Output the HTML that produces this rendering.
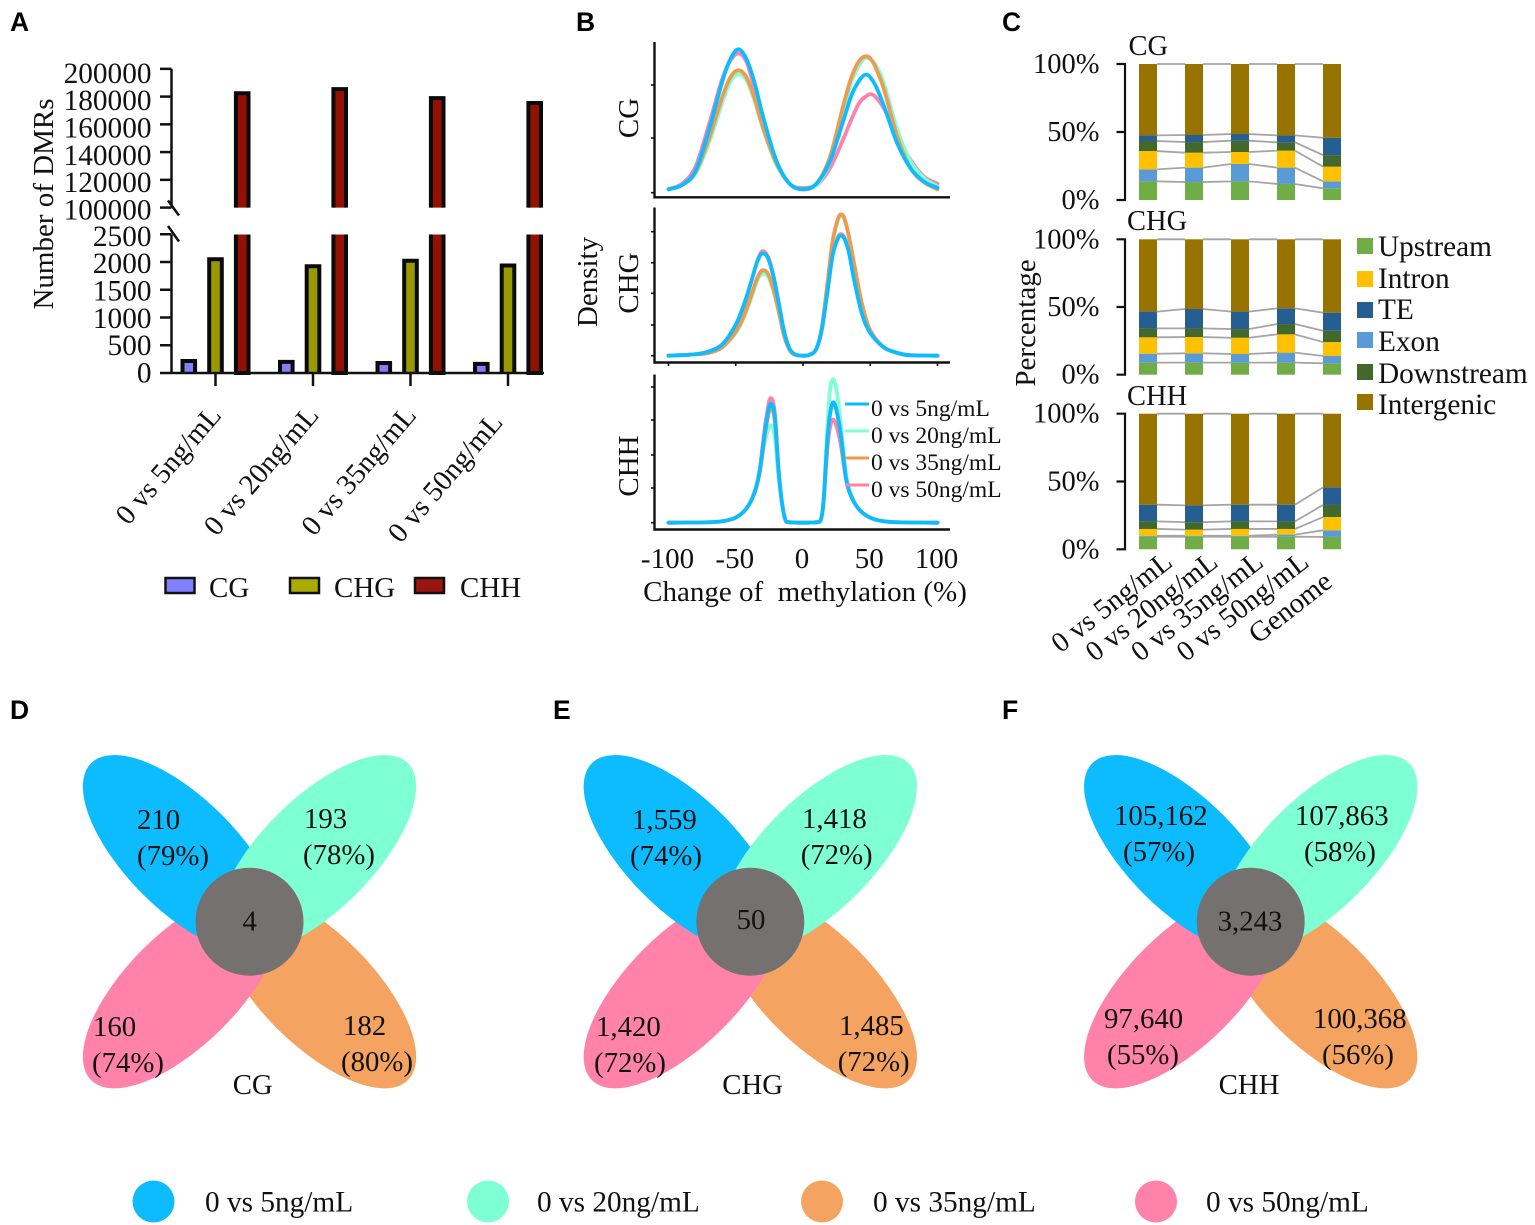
<!DOCTYPE html>
<html lang="en">
<head>
<meta charset="utf-8">
<title>DMR methylation figure</title>
<style>
html,body{margin:0;padding:0;background:#fff;width:1535px;height:1225px;overflow:hidden}
svg{display:block}
text{font-family:"Liberation Serif",serif;fill:#111;font-size:29px}
.panel-letter{font-family:"Liberation Sans",sans-serif;font-weight:700;font-size:26.5px;fill:#000}
.venn text{font-size:28.8px}
</style>
</head>
<body>
<svg id="fig" xmlns="http://www.w3.org/2000/svg" width="1535" height="1225" viewBox="0 0 1535 1225">
  <text class="panel-letter" x="10" y="31">A</text>
  <text class="panel-letter" x="576" y="31">B</text>
  <text class="panel-letter" x="1002" y="31">C</text>
  <text class="panel-letter" x="10" y="719">D</text>
  <text class="panel-letter" x="553" y="719">E</text>
  <text class="panel-letter" x="1002" y="719">F</text>

  <g id="panelA"></g>
  <g id="panelB"></g>
  <g id="panelC"></g>

  <!-- Panel A static furniture -->
  <text transform="translate(53,204) rotate(-90)" text-anchor="middle">Number of DMRs</text>
  <g>
    <rect x="165.5" y="578" width="29" height="15" fill="#8080ff" stroke="#111" stroke-width="2.5"/>
    <text x="209" y="597">CG</text>
    <rect x="290" y="578" width="29" height="15" fill="#aaaa00" stroke="#111" stroke-width="2.5"/>
    <text x="334" y="597">CHG</text>
    <rect x="415" y="578" width="29" height="15" fill="#9a1410" stroke="#111" stroke-width="2.5"/>
    <text x="460" y="597">CHH</text>
  </g>

  <!-- Panel B static furniture -->
  <text transform="translate(597,282) rotate(-90)" text-anchor="middle">Density</text>
  <text transform="translate(638,118) rotate(-90)" text-anchor="middle">CG</text>
  <text transform="translate(638,283) rotate(-90)" text-anchor="middle">CHG</text>
  <text transform="translate(638,466) rotate(-90)" text-anchor="middle">CHH</text>
  <text x="805" y="601" text-anchor="middle" xml:space="preserve">Change of&#160; methylation (%)</text>
  <g>
    <line x1="845" x2="869" y1="404" y2="404" stroke="#0dbcff" stroke-width="3"/>
    <text x="871" y="416" style="font-size:23.5px">0 vs 5ng/mL</text>
    <line x1="845" x2="869" y1="431" y2="431" stroke="#7fffd4" stroke-width="3"/>
    <text x="871" y="443" style="font-size:23.5px">0 vs 20ng/mL</text>
    <line x1="845" x2="869" y1="458" y2="458" stroke="#f09a50" stroke-width="3"/>
    <text x="871" y="470" style="font-size:23.5px">0 vs 35ng/mL</text>
    <line x1="845" x2="869" y1="485" y2="485" stroke="#ff82ab" stroke-width="3"/>
    <text x="871" y="497" style="font-size:23.5px">0 vs 50ng/mL</text>
  </g>

  <!-- Panel C static furniture -->
  <text transform="translate(1035,323) rotate(-90)" text-anchor="middle">Percentage</text>
  <text x="1128.5" y="55" style="font-size:28.5px">CG</text>
  <text x="1127" y="230" style="font-size:28.5px">CHG</text>
  <text x="1127" y="405" style="font-size:28.5px">CHH</text>
  <g style="font-size:29.3px">
    <rect x="1357" y="238" width="16" height="16" fill="#70ad47"/>
    <text x="1378" y="256" style="font-size:29.3px">Upstream</text>
    <rect x="1357" y="271" width="16" height="16" fill="#ffc000"/>
    <text x="1378" y="288" style="font-size:29.3px">Intron</text>
    <rect x="1357" y="302" width="16" height="16" fill="#255e91"/>
    <text x="1378" y="319" style="font-size:29.3px">TE</text>
    <rect x="1357" y="332" width="16" height="16" fill="#5b9bd5"/>
    <text x="1378" y="351" style="font-size:29.3px">Exon</text>
    <rect x="1357" y="364" width="16" height="16" fill="#43682b"/>
    <text x="1378" y="383" style="font-size:29.3px">Downstream</text>
    <rect x="1357" y="394" width="16" height="16" fill="#997300"/>
    <text x="1378" y="414" style="font-size:29.3px">Intergenic</text>
  </g>

  <!-- Venn D -->
  <g class="venn">
    <ellipse cx="316.7" cy="988.9" rx="129" ry="56" transform="rotate(45 316.7 988.9)" fill="#f4a460"/>
    <ellipse cx="182.3" cy="988.9" rx="129" ry="56" transform="rotate(-45 182.3 988.9)" fill="#ff82ab"/>
    <ellipse cx="182.3" cy="854.5" rx="129" ry="56" transform="rotate(45 182.3 854.5)" fill="#0dbcff"/>
    <ellipse cx="316.7" cy="854.5" rx="129" ry="56" transform="rotate(-45 316.7 854.5)" fill="#7fffd4"/>
    <circle cx="249.5" cy="921.7" r="54" fill="#767171"/>
    <text x="137" y="829">210</text>
    <text x="137" y="865">(79%)</text>
    <text x="304" y="828">193</text>
    <text x="303" y="864">(78%)</text>
    <text x="93" y="1036">160</text>
    <text x="92" y="1072">(74%)</text>
    <text x="343" y="1035">182</text>
    <text x="341" y="1071">(80%)</text>
    <text x="249.7" y="930.7" text-anchor="middle">4</text>
    <text x="252.7" y="1094" text-anchor="middle">CG</text>
  </g>

  <!-- Venn E -->
  <g class="venn">
    <ellipse cx="817.5" cy="988.9" rx="129" ry="56" transform="rotate(45 817.5 988.9)" fill="#f4a460"/>
    <ellipse cx="683.1" cy="988.9" rx="129" ry="56" transform="rotate(-45 683.1 988.9)" fill="#ff82ab"/>
    <ellipse cx="683.1" cy="854.5" rx="129" ry="56" transform="rotate(45 683.1 854.5)" fill="#0dbcff"/>
    <ellipse cx="817.5" cy="854.5" rx="129" ry="56" transform="rotate(-45 817.5 854.5)" fill="#7fffd4"/>
    <circle cx="750.3" cy="921.7" r="54" fill="#767171"/>
    <text x="632" y="829">1,559</text>
    <text x="630" y="865">(74%)</text>
    <text x="802" y="828">1,418</text>
    <text x="800.7" y="864">(72%)</text>
    <text x="596" y="1036">1,420</text>
    <text x="594" y="1072">(72%)</text>
    <text x="839" y="1035">1,485</text>
    <text x="837.7" y="1071">(72%)</text>
    <text x="751" y="929" text-anchor="middle">50</text>
    <text x="752.7" y="1094" text-anchor="middle">CHG</text>
  </g>

  <!-- Venn F -->
  <g class="venn">
    <ellipse cx="1317.9" cy="988.9" rx="129" ry="56" transform="rotate(45 1317.9 988.9)" fill="#f4a460"/>
    <ellipse cx="1183.5" cy="988.9" rx="129" ry="56" transform="rotate(-45 1183.5 988.9)" fill="#ff82ab"/>
    <ellipse cx="1183.5" cy="854.5" rx="129" ry="56" transform="rotate(45 1183.5 854.5)" fill="#0dbcff"/>
    <ellipse cx="1317.9" cy="854.5" rx="129" ry="56" transform="rotate(-45 1317.9 854.5)" fill="#7fffd4"/>
    <circle cx="1250.7" cy="921.7" r="54" fill="#767171"/>
    <text x="1114" y="825">105,162</text>
    <text x="1123" y="861">(57%)</text>
    <text x="1295" y="825">107,863</text>
    <text x="1304" y="861">(58%)</text>
    <text x="1104" y="1028">97,640</text>
    <text x="1107" y="1064">(55%)</text>
    <text x="1313" y="1028">100,368</text>
    <text x="1322" y="1064">(56%)</text>
    <text x="1250" y="930.7" text-anchor="middle">3,243</text>
    <text x="1249" y="1094" text-anchor="middle">CHH</text>
  </g>

  <!-- Bottom legend -->
  <g>
    <ellipse cx="153.5" cy="1201.5" rx="21" ry="21" fill="#0dbcff"/>
    <text x="205" y="1211.5" style="font-size:29.3px">0 vs 5ng/mL</text>
    <ellipse cx="488" cy="1201.5" rx="21" ry="21" fill="#7fffd4"/>
    <text x="537" y="1211.5" style="font-size:29.3px">0 vs 20ng/mL</text>
    <ellipse cx="822" cy="1201.5" rx="21" ry="21" fill="#f4a460"/>
    <text x="873" y="1211.5" style="font-size:29.3px">0 vs 35ng/mL</text>
    <ellipse cx="1156" cy="1201.5" rx="21" ry="21" fill="#ff82ab"/>
    <text x="1206" y="1211.5" style="font-size:29.3px">0 vs 50ng/mL</text>
  </g>
</svg>

<script>
/* ---------- Panel A data ---------- */
const comparisonsA = ["0 vs 5ng/mL", "0 vs 20ng/mL", "0 vs 35ng/mL", "0 vs 50ng/mL"];
const valuesCG  = [252, 237, 216, 200];
const valuesCHG = [2086, 1960, 2058, 1973];
const valuesCHH = [183900, 186800, 180300, 176800];
const ticksLowerA = [0, 500, 1000, 1500, 2000, 2500];
const ticksUpperA = [100000, 120000, 140000, 160000, 180000, 200000];

/* ---------- Panel B data ---------- */
const xTicksB = [-100, -50, 0, 50, 100];
const xsCG = [-100,-90,-80,-70,-60,-54,-48,-42,-36,-30,-20,-10,0,10,20,30,36,42,47,50,54,60,70,80,90,100];
const cgPink   = [0,4,16,46,79,92,97,91,72,50,20,4,1,3,15,36,50,62,66.5,68,66,58,38,21,9,4];
const cgMint   = [0,3,11,33,62,77,82,78,63,44,18,4,0,3,20,56,77,89,94,93,89,76,43,20,8,2];
const cgOrange = [0,3,12,36,66,80,85,80,65,45,19,4,0,4,23,60,80,92,95,93.5,87,72,38,15,5,0];
const cgBlue   = [0,3,13,42,77,93,100,93,76,53,21,4,0,4,20,49,67,78,82,80,74,60,33,15,5.5,1];

const xsCHG = [-100,-80,-70,-60,-50,-44,-38,-34,-30,-26,-22,-18,-14,-10,-5,0,5,10,14,18,22,26,28,30,34,38,44,50,60,70,80,100];
const chgPink   = [0,1,3,8,20,34,54,67,74,70,57,37,17,5,0.5,0,0.7,5,18,44,71,84,86,85,76,56,31,17,6,2,0.3,0];
const chgMint   = [0,1,2,6,16,27,42,53,58,56,46,31,14,4,0.5,0,0.7,5,20,49,80,96,99,98,85,65,36,18,6,2,0.3,0];
const chgOrange = [0,1,2,6,17,28,44,55,60.5,58,47,31,14,4,0.5,0,0.7,5,20,50,81,97,100,99,85,65,36,18,6,2,0.3,0];
const chgBlue   = [0,1,3,8,22,36,54,66.5,72.4,69,56,37,17,5,0.5,0,0.7,5,19,44,71,83,85,84,73.5,53.5,29,16,6,2,0.3,0];

const xsCHH = [-100,-70,-60,-50,-42,-36,-32,-28,-24,-21,-18,-15,-12,0,12,15,18,20,22.5,25,28,32,36,42,50,60,70,100];
const chhPink   = [0,0.3,1,3.6,10,22,39,69,87,77,36,10,0.5,0,0.5,11,50,66,72,67,55,30,18,9,3.5,1,0.3,0];
const chhMint   = [0,0.3,1,3.6,10,22,38,58,68,60,30,9,0.5,0,0.5,13,65,92,100,92,70,34,19,9,3.5,1,0.3,0];
const chhOrange = [0,0.3,1,3.6,10,21,36,63,80,71,34,10,0.5,0,0.5,12,56,75,84,78,62,31,18,9,3.5,1,0.3,0];
const chhBlue   = [0,0.3,1,3.6,10,21,37,65.5,83,74,35,10,0.5,0,0.5,12,56,75,84,78,62,31,18,9,3.5,1,0.3,0];

/* ---------- Panel C data (cumulative % top of each stack layer, per bar) ---------- */
const categoriesC = ["0 vs 5ng/mL", "0 vs 20ng/mL", "0 vs 35ng/mL", "0 vs 50ng/mL", "Genome"];
const percentTicks = [0, 50, 100];
const layerNames = ["Upstream", "Exon", "Intron", "Downstream", "TE", "Intergenic"];
const cgUpstream   = [13.7, 13.2, 13.7, 11.8, 8.6];
const cgExon       = [22.5, 23.8, 26.5, 23.8, 13.7];
const cgIntron     = [36, 34.8, 35.3, 36.3, 24.5];
const cgDownstream = [43.4, 42.6, 43.6, 42.4, 33];
const cgTE         = [47.5, 47.8, 48.5, 47.5, 45.8];
const chgUpstream   = [8.9, 8.9, 8.9, 8.9, 8.4];
const chgExon       = [15.5, 15.8, 15.3, 16.3, 13.8];
const chgIntron     = [27.6, 27.8, 27.3, 29.8, 24.1];
const chgDownstream = [34.2, 34.2, 33.7, 37.4, 32.5];
const chgTE         = [46.6, 48.5, 46.6, 49, 45.8];
const chhUpstream   = [9.3, 9.3, 9.3, 9.3, 9.1];
const chhExon       = [10, 10, 10, 10.8, 14];
const chhIntron     = [15, 14.5, 15, 15, 23.8];
const chhDownstream = [20.6, 20, 20.6, 20.6, 32.7];
const chhTE         = [32.9, 32.4, 32.9, 32.9, 45.7];
const intergenicTop = [100, 100, 100, 100, 100];

/* ---------- helpers ---------- */
const NS = "http://www.w3.org/2000/svg";
function make(parent, tag, attrs, txt) {
  const n = document.createElementNS(NS, tag);
  for (const k in attrs) n.setAttribute(k, attrs[k]);
  if (txt !== undefined) n.textContent = txt;
  parent.appendChild(n);
  return n;
}
/* monotone cubic so flat stretches do not overshoot */
function smoothPath(pts) {
  const n = pts.length;
  const slope = [];
  for (let i = 0; i < n - 1; i++) slope.push((pts[i + 1][1] - pts[i][1]) / (pts[i + 1][0] - pts[i][0]));
  const m = [];
  for (let i = 0; i < n; i++) {
    if (i === 0) m.push(slope[0]);
    else if (i === n - 1) m.push(slope[n - 2]);
    else if (slope[i - 1] * slope[i] <= 0) m.push(0);
    else {
      const c = (pts[i + 1][1] - pts[i - 1][1]) / (pts[i + 1][0] - pts[i - 1][0]);
      const lim = 3 * Math.min(Math.abs(slope[i - 1]), Math.abs(slope[i]));
      m.push(Math.sign(c) * Math.min(Math.abs(c), lim));
    }
  }
  let d = "M" + pts[0][0].toFixed(2) + " " + pts[0][1].toFixed(2);
  for (let i = 0; i < n - 1; i++) {
    const h = pts[i + 1][0] - pts[i][0];
    d += "C" + (pts[i][0] + h / 3).toFixed(2) + " " + (pts[i][1] + m[i] * h / 3).toFixed(2) + " " +
         (pts[i + 1][0] - h / 3).toFixed(2) + " " + (pts[i + 1][1] - m[i + 1] * h / 3).toFixed(2) + " " +
         pts[i + 1][0].toFixed(2) + " " + pts[i + 1][1].toFixed(2);
  }
  return d;
}

/* ---------- Panel A ---------- */
const gA = document.getElementById("panelA");
const LOW_Y0 = 373, LOW_STEP = 27.75 / 500, UP_Y0 = 207.6, UP_STEP = 27.75 / 20000;
const BREAK_LOW = 234.5;
function yA(v) { return v <= 2500 ? LOW_Y0 - v * LOW_STEP : UP_Y0 - (v - 100000) * UP_STEP; }
function xA(g, s) { return 215.5 + 97.5 * g + (s - 1) * 26.7; }
const seriesA = [valuesCG, valuesCHG, valuesCHH];
const seriesAFill = ["#8080ff", "#9a9a00", "#931100"];
const seriesAName = ["cg", "chg", "chh"];
const HALF_BAR = 6.3;
seriesA.forEach(function (vals, s) {
  vals.forEach(function (v, g) {
    const cx = xA(g, s);
    const x0 = cx - HALF_BAR, x1 = cx + HALF_BAR;
    if (v > 2500) {
      const top = yA(v) + 2;
      const upper = make(gA, "path", { d: "M" + x0 + " " + UP_Y0 + "V" + top + "H" + x1 + "V" + UP_Y0, fill: seriesAFill[s], stroke: "#0a0a0a", "stroke-width": 4 });
      
      
      const lower = make(gA, "path", { d: "M" + x0 + " " + BREAK_LOW + "V" + LOW_Y0 + "H" + x1 + "V" + BREAK_LOW, fill: seriesAFill[s], stroke: "#0a0a0a", "stroke-width": 4 });
      
      
    } else {
      const top = yA(v) + 2;
      const bar = make(gA, "path", { d: "M" + x0 + " " + LOW_Y0 + "V" + top + "H" + x1 + "V" + LOW_Y0, fill: seriesAFill[s], stroke: "#0a0a0a", "stroke-width": 4 });
      
      
    }
  });
});
const axisA1 = make(gA, "path", { d: "M171.5 " + yA(200000) + "V205.5", fill: "none", stroke: "#111", "stroke-width": 2.5 });


const axisA2 = make(gA, "path", { d: "M171.5 " + BREAK_LOW + "V" + LOW_Y0 + "M160 " + LOW_Y0 + "H544", fill: "none", stroke: "#111", "stroke-width": 2.5 });


const breakA = make(gA, "path", { d: "M168 200.5L179 215.5M168 226L179 241.5", fill: "none", stroke: "#111", "stroke-width": 2.5 });


ticksUpperA.concat(ticksLowerA).forEach(function (t) {
  const y = yA(t);
  if (t !== 0) {
    const tick = make(gA, "line", { x1: 160, x2: 171.5, y1: y, y2: y, stroke: "#111", "stroke-width": 2.5 });
    
    
  }
  const lab = make(gA, "text", { x: 151.5, y: y + 9.5 + (LOW_Y0 - y) * 0.0148, "text-anchor": "end", style: "font-size:29.3px" }, String(t));
  
  
});
comparisonsA.forEach(function (c, g) {
  const x = xA(g, 1);
  const tick = make(gA, "line", { x1: x, x2: x, y1: LOW_Y0, y2: 386, stroke: "#111", "stroke-width": 2.5 });
  
  
  const ex = x + 7 - (g === 3 ? 11 : 0);
  const ey = 416 + (g === 3 ? 7 : 0);
  const lab = make(gA, "text", { "text-anchor": "end", transform: "translate(" + ex + "," + ey + ") rotate(-49.5)", style: "font-size:28.7px" }, c);
  
  
});

/* ---------- Panel B ---------- */
const gB = document.getElementById("panelB");
function xB(v) { return 803 + 1.345 * v; }
const curveColors = ["#ff82ab", "#7fffd4", "#f09a50", "#0dbcff"];
const curveNames = ["50ng", "20ng", "35ng", "5ng"];
const rowsB = [
  { name: "cg",  xs: xsCG,  series: [cgPink, cgMint, cgOrange, cgBlue],     base: 189.3, scale: 1.40, top: 42,  bottom: 197.3, tickYs: [85, 138, 192.7] },
  { name: "chg", xs: xsCHG, series: [chgPink, chgMint, chgOrange, chgBlue], base: 355.7, scale: 1.413, top: 207.5, bottom: 362.5, tickYs: [231.7, 262.7, 293.3, 325, 355.7] },
  { name: "chh", xs: xsCHH, series: [chhPink, chhMint, chhOrange, chhBlue], base: 522.7, scale: 1.433, top: 374.5, bottom: 529.5, tickYs: [387, 420, 455, 488, 522.7] }
];
rowsB.forEach(function (row) {
  row.series.forEach(function (vals, i) {
    const pts = vals.map(function (v, k) { return [xB(row.xs[k]), row.base - v * row.scale]; });
    const curve = make(gB, "path", { d: smoothPath(pts), fill: "none", stroke: curveColors[i], "stroke-width": 3.8, "stroke-linecap": "round" });
    
    
  });
  const axis = make(gB, "path", { d: "M654.5 " + row.top + "V" + row.bottom + "H950", fill: "none", stroke: "#111", "stroke-width": 2.4 });
  
  
  row.tickYs.forEach(function (y) {
    const t = make(gB, "line", { x1: 651, x2: 654.5, y1: y, y2: y, stroke: "#111", "stroke-width": 1.6 });
    
    
  });
});
xTicksB.forEach(function (v) {
  const t = make(gB, "line", { x1: xB(v), x2: xB(v), y1: 362.5, y2: 366, stroke: "#111", "stroke-width": 1.6 });
  
  
  const lab = make(gB, "text", { x: xB(v) - 1, y: 568, "text-anchor": "middle", style: "font-size:29px" }, String(v));
  
  
});

/* ---------- Panel C ---------- */
const gC = document.getElementById("panelC");
const BAR_W = 18;
function xC(i) { return 1139 + 46 * i; }
const layerFill = ["#70ad47", "#5b9bd5", "#ffc000", "#43682b", "#255e91", "#997300"];
const facets = [
  { name: "cg",  y0: 200,   y100: 64,    layers: [cgUpstream, cgExon, cgIntron, cgDownstream, cgTE, intergenicTop] },
  { name: "chg", y0: 374.7, y100: 239.3, layers: [chgUpstream, chgExon, chgIntron, chgDownstream, chgTE, intergenicTop] },
  { name: "chh", y0: 549.3, y100: 413.7, layers: [chhUpstream, chhExon, chhIntron, chhDownstream, chhTE, intergenicTop] }
];
facets.forEach(function (f) {
  function yC(p) { return f.y0 - (f.y0 - f.y100) * p / 100; }
  f.layers.forEach(function (tops, l) {
    tops.forEach(function (p, i) {
      const prev = l === 0 ? 0 : f.layers[l - 1][i];
      const r = make(gC, "rect", { x: xC(i), y: yC(p), width: BAR_W, height: yC(prev) - yC(p), fill: layerFill[l] });
      
      
    });
    for (let i = 0; i < tops.length - 1; i++) {
      const ln = make(gC, "line", { x1: xC(i) + BAR_W, x2: xC(i + 1), y1: yC(tops[i]), y2: yC(tops[i + 1]), stroke: "#a5a5a5", "stroke-width": 1.8 });
      
      
    }
  });
  const axis = make(gC, "path", { d: "M1116.5 " + yC(100) + "H1125V" + yC(0) + "H1116.5M1116.5 " + yC(50) + "H1125", fill: "none", stroke: "#111", "stroke-width": 2.2 });
  
  
  percentTicks.forEach(function (p) {
    const lab = make(gC, "text", { x: 1099.5, y: yC(p) + 9, "text-anchor": "end", style: "font-size:28.5px" }, p + "%");
    
    
  });
});
categoriesC.forEach(function (c, i) {
  const last = i === categoriesC.length - 1;
  const ex = last ? 1334 : 1174 + 45.5 * i;
  const ey = last ? 585 : 565;
  const lab = make(gC, "text", { "text-anchor": "end", transform: "translate(" + ex + "," + ey + ") rotate(-38)", style: "font-size:28.5px" }, c);
  
  
});
</script>
</body>
</html>
